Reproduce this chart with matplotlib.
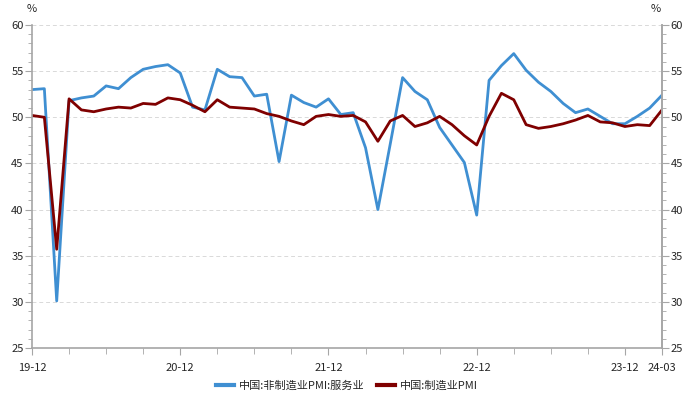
import matplotlib
matplotlib.use("Agg")
import matplotlib.pyplot as plt
from matplotlib.ticker import MultipleLocator

plt.rcParams["font.family"] = ["Noto Sans CJK SC", "DejaVu Sans"]
plt.rcParams["axes.unicode_minus"] = False

# 月份：2019-12 至 2024-03
months = []
for y in range(2019, 2025):
    for m in range(1, 13):
        if (y, m) < (2019, 12) or (y, m) > (2024, 3):
            continue
        months.append(f"{str(y)[2:]}-{m:02d}")

services = [53.0, 53.1, 30.1, 51.8, 52.1, 52.3, 53.4, 53.1, 54.3, 55.2, 55.5, 55.7,
            54.8, 51.1, 50.8, 55.2, 54.4, 54.3, 52.3, 52.5, 45.2, 52.4, 51.6, 51.1,
            52.0, 50.3, 50.5, 46.7, 40.0, 47.1, 54.3, 52.8, 51.9, 48.9, 47.0, 45.1,
            39.4, 54.0, 55.6, 56.9, 55.1, 53.8, 52.8, 51.5, 50.5, 50.9, 50.1, 49.3,
            49.3, 50.1, 51.0, 52.4]
manufacturing = [50.2, 50.0, 35.7, 52.0, 50.8, 50.6, 50.9, 51.1, 51.0, 51.5, 51.4, 52.1,
                 51.9, 51.3, 50.6, 51.9, 51.1, 51.0, 50.9, 50.4, 50.1, 49.6, 49.2, 50.1,
                 50.3, 50.1, 50.2, 49.5, 47.4, 49.6, 50.2, 49.0, 49.4, 50.1, 49.2, 48.0,
                 47.0, 50.1, 52.6, 51.9, 49.2, 48.8, 49.0, 49.3, 49.7, 50.2, 49.5, 49.4,
                 49.0, 49.2, 49.1, 50.8]
tick_labels = ["19-12", "20-12", "21-12", "22-12", "23-12", "24-03"]

x = list(range(len(months)))
tick_pos = [months.index(t) for t in tick_labels]

fig = plt.figure(figsize=(6.9, 4.0), dpi=100)
ax = fig.add_axes([32 / 690, 52 / 400, 630 / 690, 323 / 400])

blue = "#3F8FD2"
red = "#7F0000"
ax.plot(x, services, color=blue, lw=2.0, label="中国:非制造业PMI:服务业")
ax.plot(x, manufacturing, color=red, lw=2.0, label="中国:制造业PMI")

ax.set_xlim(0, len(months) - 1)
ax.set_ylim(25, 60)
ax.yaxis.set_major_locator(MultipleLocator(5))
ax.yaxis.set_minor_locator(MultipleLocator(1))
ax.grid(axis="y", which="major", color="#D9D9D9", ls=(0, (4, 3)), lw=0.7)

ax.set_xticks(tick_pos)
ax.set_xticklabels(tick_labels)
ax.set_xticks(list(range(0, len(months), 3)), minor=True)

for s in ["left", "right", "bottom"]:
    ax.spines[s].set_color("#A6A6A6")
    ax.spines[s].set_linewidth(1.2)
ax.spines["top"].set_visible(False)

ax.tick_params(axis="both", which="both", color="#A6A6A6", labelsize=8, labelcolor="#262626")
ax.tick_params(axis="y", which="major", length=5, pad=1)
ax.tick_params(axis="y", which="minor", length=3)
ax.tick_params(axis="x", which="major", length=5, pad=6)
ax.tick_params(axis="x", which="minor", length=4)

ax2 = ax.twinx()
ax2.set_ylim(25, 60)
ax2.yaxis.set_major_locator(MultipleLocator(5))
ax2.yaxis.set_minor_locator(MultipleLocator(1))
for s in ["left", "top", "bottom"]:
    ax2.spines[s].set_visible(False)
ax2.spines["right"].set_color("#A6A6A6")
ax2.spines["right"].set_linewidth(1.2)
ax2.tick_params(axis="y", which="both", color="#A6A6A6", labelsize=8, labelcolor="#262626")
ax2.tick_params(axis="y", which="major", length=5, pad=1)
ax2.tick_params(axis="y", which="minor", length=3)

fig.text(32 / 690, 1 - 9 / 400, "%", ha="center", va="center", fontsize=8, color="#262626")
fig.text(656 / 690, 1 - 9 / 400, "%", ha="center", va="center", fontsize=8, color="#262626")

leg = ax.legend(loc="upper center", bbox_to_anchor=(0.5, -0.07), ncol=2, frameon=False,
                fontsize=8, handlelength=1.6, handletextpad=0.4, columnspacing=1.2,
                labelcolor="#262626")
for line in leg.get_lines():
    line.set_linewidth(3.0)

fig.savefig("out.png", dpi=100)
